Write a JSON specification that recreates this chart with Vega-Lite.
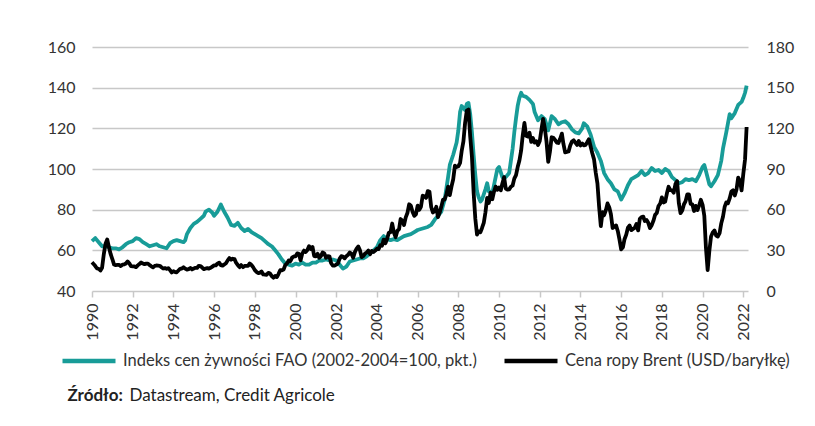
{
  "$schema": "https://vega.github.io/schema/vega-lite/v6.json",
  "width": 656,
  "height": 244,
  "autosize": {"type": "none"},
  "padding": {"left": 92, "top": 47, "right": 67, "bottom": 135},
  "background": "white",
  "config": {
    "view": {"stroke": null},
    "font": "Lato",
    "axis": {"labelFont": "Lato", "labelFontSize": 16, "labelColor": "#333333", "titleFont": "Lato", "titleFontSize": 17, "titleColor": "#222222"},
    "legend": {"labelFont": "Lato", "labelFontSize": 16.5, "labelColor": "#333333", "labelLimit": 500}
  },
  "datasets": {
    "fao": [
      {"d":"1990-01","v":64.5},{"d":"1990-03","v":66},{"d":"1990-05","v":64},{"d":"1990-07","v":62},{"d":"1990-09","v":62},{"d":"1990-11","v":61.5},
      {"d":"1991-01","v":61},{"d":"1991-03","v":61},{"d":"1991-05","v":60.5},{"d":"1991-07","v":61.5},{"d":"1991-09","v":63},{"d":"1991-11","v":64},
      {"d":"1992-01","v":64.5},{"d":"1992-03","v":66},{"d":"1992-05","v":65.5},{"d":"1992-07","v":64},{"d":"1992-09","v":63},{"d":"1992-11","v":62},
      {"d":"1993-01","v":62.5},{"d":"1993-03","v":63},{"d":"1993-05","v":62},{"d":"1993-07","v":61.5},{"d":"1993-09","v":61},{"d":"1993-11","v":63.5},
      {"d":"1994-01","v":64.5},{"d":"1994-03","v":65},{"d":"1994-05","v":64.5},{"d":"1994-07","v":64},{"d":"1994-08","v":65},{"d":"1994-09","v":68},{"d":"1994-11","v":71},
      {"d":"1995-01","v":73},{"d":"1995-03","v":74},{"d":"1995-05","v":75.5},{"d":"1995-07","v":77},{"d":"1995-08","v":79},{"d":"1995-10","v":80},{"d":"1995-12","v":78.5},
      {"d":"1996-01","v":77},{"d":"1996-03","v":79},{"d":"1996-05","v":82.5},{"d":"1996-07","v":79},{"d":"1996-09","v":76},{"d":"1996-11","v":72.5},
      {"d":"1997-01","v":72},{"d":"1997-03","v":73.5},{"d":"1997-05","v":71},{"d":"1997-07","v":69.5},{"d":"1997-09","v":70.5},{"d":"1997-11","v":69},
      {"d":"1998-01","v":68},{"d":"1998-03","v":67},{"d":"1998-05","v":66},{"d":"1998-07","v":64.5},{"d":"1998-09","v":63},{"d":"1998-11","v":62},
      {"d":"1999-01","v":60},{"d":"1999-03","v":58},{"d":"1999-05","v":55.5},{"d":"1999-07","v":53.5},{"d":"1999-09","v":53},{"d":"1999-11","v":52.5},
      {"d":"2000-01","v":53.5},{"d":"2000-03","v":53},{"d":"2000-05","v":54},{"d":"2000-07","v":53},{"d":"2000-09","v":53},{"d":"2000-11","v":54},
      {"d":"2001-01","v":54},{"d":"2001-03","v":55},{"d":"2001-05","v":55},{"d":"2001-07","v":55.5},{"d":"2001-09","v":55},{"d":"2001-11","v":55.5},
      {"d":"2002-01","v":55},{"d":"2002-03","v":53},{"d":"2002-05","v":51},{"d":"2002-07","v":52},{"d":"2002-09","v":54.5},{"d":"2002-11","v":55},
      {"d":"2003-01","v":55.5},{"d":"2003-03","v":56},{"d":"2003-05","v":56},{"d":"2003-07","v":57},{"d":"2003-09","v":58.5},{"d":"2003-11","v":60},
      {"d":"2004-01","v":61.5},{"d":"2004-03","v":65},{"d":"2004-05","v":67},{"d":"2004-07","v":65.5},{"d":"2004-09","v":65},{"d":"2004-11","v":65.5},
      {"d":"2005-01","v":65},{"d":"2005-03","v":66},{"d":"2005-05","v":67},{"d":"2005-07","v":67.5},{"d":"2005-09","v":68},{"d":"2005-11","v":69},
      {"d":"2006-01","v":70},{"d":"2006-03","v":70.5},{"d":"2006-05","v":71},{"d":"2006-07","v":71.5},{"d":"2006-09","v":72.5},{"d":"2006-11","v":75},
      {"d":"2007-01","v":77},{"d":"2007-03","v":79},{"d":"2007-05","v":85},{"d":"2007-07","v":96},{"d":"2007-08","v":102},{"d":"2007-10","v":107},{"d":"2007-12","v":113},
      {"d":"2008-01","v":119},{"d":"2008-02","v":128},{"d":"2008-03","v":131},{"d":"2008-04","v":130},{"d":"2008-05","v":129},{"d":"2008-06","v":132},{"d":"2008-07","v":132.5},{"d":"2008-08","v":127},{"d":"2008-09","v":118},{"d":"2008-10","v":107},{"d":"2008-11","v":97},{"d":"2008-12","v":89},
      {"d":"2009-01","v":86},{"d":"2009-02","v":84},{"d":"2009-03","v":85},{"d":"2009-05","v":90},{"d":"2009-06","v":93},{"d":"2009-07","v":89},{"d":"2009-09","v":88},{"d":"2009-10","v":92},{"d":"2009-12","v":100},
      {"d":"2010-01","v":101},{"d":"2010-03","v":96},{"d":"2010-05","v":96},{"d":"2010-07","v":98},{"d":"2010-08","v":104},{"d":"2010-09","v":110},{"d":"2010-10","v":118},{"d":"2010-11","v":125},{"d":"2010-12","v":131},
      {"d":"2011-01","v":135},{"d":"2011-02","v":137.5},{"d":"2011-03","v":136},{"d":"2011-05","v":135.5},{"d":"2011-07","v":134},{"d":"2011-09","v":132},{"d":"2011-10","v":128},{"d":"2011-12","v":124},
      {"d":"2012-02","v":126},{"d":"2012-04","v":124.5},{"d":"2012-06","v":119},{"d":"2012-08","v":126},{"d":"2012-10","v":124.5},{"d":"2012-12","v":122},
      {"d":"2013-02","v":123},{"d":"2013-04","v":123.5},{"d":"2013-06","v":122},{"d":"2013-08","v":119.5},{"d":"2013-10","v":118},{"d":"2013-12","v":117.5},
      {"d":"2014-02","v":120},{"d":"2014-03","v":122.5},{"d":"2014-05","v":121},{"d":"2014-07","v":117},{"d":"2014-09","v":111},{"d":"2014-11","v":108},
      {"d":"2015-01","v":104},{"d":"2015-03","v":98},{"d":"2015-05","v":95},{"d":"2015-07","v":93},{"d":"2015-09","v":90},{"d":"2015-11","v":89},
      {"d":"2016-01","v":85},{"d":"2016-03","v":88},{"d":"2016-05","v":92},{"d":"2016-07","v":95},{"d":"2016-09","v":96},{"d":"2016-11","v":97},
      {"d":"2017-01","v":99},{"d":"2017-03","v":97},{"d":"2017-05","v":98},{"d":"2017-07","v":100.5},{"d":"2017-09","v":99},{"d":"2017-11","v":99.5},
      {"d":"2018-01","v":98},{"d":"2018-03","v":100},{"d":"2018-05","v":99},{"d":"2018-07","v":96},{"d":"2018-09","v":94.5},{"d":"2018-11","v":93},
      {"d":"2019-01","v":93.5},{"d":"2019-03","v":95},{"d":"2019-05","v":94.5},{"d":"2019-07","v":95},{"d":"2019-09","v":94},{"d":"2019-11","v":97},
      {"d":"2020-01","v":101},{"d":"2020-02","v":102},{"d":"2020-03","v":99},{"d":"2020-05","v":92.5},{"d":"2020-06","v":91.5},{"d":"2020-08","v":94},{"d":"2020-10","v":97},{"d":"2020-12","v":104},
      {"d":"2021-01","v":110},{"d":"2021-03","v":118},{"d":"2021-05","v":127},{"d":"2021-06","v":125},{"d":"2021-08","v":127.5},{"d":"2021-10","v":131.5},{"d":"2021-12","v":133},
      {"d":"2022-01","v":135},{"d":"2022-02","v":137.5},{"d":"2022-03","v":141}
    ],
    "brent": [
      {"d":"1990-01","v":21.2},{"d":"1990-02","v":19.8},{"d":"1990-03","v":18.4},{"d":"1990-04","v":16.6},{"d":"1990-05","v":16.4},{"d":"1990-06","v":15.1},{"d":"1990-07","v":17.2},{"d":"1990-08","v":27.2},{"d":"1990-09","v":34.9},{"d":"1990-10","v":38.0},{"d":"1990-11","v":32.3},{"d":"1990-12","v":27.3},
      {"d":"1991-01","v":23.6},{"d":"1991-02","v":19.5},{"d":"1991-03","v":19.1},{"d":"1991-04","v":19.2},{"d":"1991-05","v":19.2},{"d":"1991-06","v":18.4},{"d":"1991-07","v":19.4},{"d":"1991-08","v":19.6},{"d":"1991-09","v":20.3},{"d":"1991-10","v":21.8},{"d":"1991-11","v":20.5},{"d":"1991-12","v":18.3},
      {"d":"1992-01","v":18.2},{"d":"1992-02","v":18.1},{"d":"1992-03","v":17.6},{"d":"1992-04","v":18.9},{"d":"1992-05","v":19.9},{"d":"1992-06","v":21.0},{"d":"1992-07","v":20.3},{"d":"1992-08","v":19.8},{"d":"1992-09","v":20.2},{"d":"1992-10","v":20.2},{"d":"1992-11","v":19.1},{"d":"1992-12","v":18.2},
      {"d":"1993-01","v":17.4},{"d":"1993-02","v":18.5},{"d":"1993-03","v":18.8},{"d":"1993-04","v":18.7},{"d":"1993-05","v":18.6},{"d":"1993-06","v":17.5},{"d":"1993-07","v":16.6},{"d":"1993-08","v":16.9},{"d":"1993-09","v":16.3},{"d":"1993-10","v":16.9},{"d":"1993-11","v":15.4},{"d":"1993-12","v":13.7},
      {"d":"1994-01","v":14.6},{"d":"1994-02","v":14.0},{"d":"1994-03","v":13.8},{"d":"1994-04","v":15.1},{"d":"1994-05","v":16.4},{"d":"1994-06","v":16.6},{"d":"1994-07","v":17.5},{"d":"1994-08","v":16.5},{"d":"1994-09","v":15.8},{"d":"1994-10","v":16.1},{"d":"1994-11","v":17.0},{"d":"1994-12","v":15.9},
      {"d":"1995-01","v":16.6},{"d":"1995-02","v":17.1},{"d":"1995-03","v":17.0},{"d":"1995-04","v":18.6},{"d":"1995-05","v":18.4},{"d":"1995-06","v":17.3},{"d":"1995-07","v":16.1},{"d":"1995-08","v":16.6},{"d":"1995-09","v":16.9},{"d":"1995-10","v":16.5},{"d":"1995-11","v":17.1},{"d":"1995-12","v":18.0},
      {"d":"1996-01","v":18.9},{"d":"1996-02","v":18.9},{"d":"1996-03","v":20.2},{"d":"1996-04","v":20.9},{"d":"1996-05","v":19.1},{"d":"1996-06","v":18.7},{"d":"1996-07","v":19.6},{"d":"1996-08","v":20.5},{"d":"1996-09","v":22.6},{"d":"1996-10","v":24.3},{"d":"1996-11","v":23.1},{"d":"1996-12","v":23.8},
      {"d":"1997-01","v":23.5},{"d":"1997-02","v":20.7},{"d":"1997-03","v":19.2},{"d":"1997-04","v":17.6},{"d":"1997-05","v":19.1},{"d":"1997-06","v":17.6},{"d":"1997-07","v":18.5},{"d":"1997-08","v":18.6},{"d":"1997-09","v":18.6},{"d":"1997-10","v":20.3},{"d":"1997-11","v":19.2},{"d":"1997-12","v":17.6},
      {"d":"1998-01","v":15.4},{"d":"1998-02","v":14.1},{"d":"1998-03","v":13.2},{"d":"1998-04","v":13.4},{"d":"1998-05","v":14.4},{"d":"1998-06","v":12.2},{"d":"1998-07","v":12.1},{"d":"1998-08","v":12.0},{"d":"1998-09","v":13.4},{"d":"1998-10","v":12.9},{"d":"1998-11","v":11.0},{"d":"1998-12","v":9.8},
      {"d":"1999-01","v":11.1},{"d":"1999-02","v":10.3},{"d":"1999-03","v":12.5},{"d":"1999-04","v":15.3},{"d":"1999-05","v":15.3},{"d":"1999-06","v":15.9},{"d":"1999-07","v":19.1},{"d":"1999-08","v":20.3},{"d":"1999-09","v":22.5},{"d":"1999-10","v":22.0},{"d":"1999-11","v":24.6},{"d":"1999-12","v":25.5},
      {"d":"2000-01","v":25.5},{"d":"2000-02","v":27.8},{"d":"2000-03","v":27.5},{"d":"2000-04","v":22.7},{"d":"2000-05","v":27.6},{"d":"2000-06","v":29.8},{"d":"2000-07","v":28.7},{"d":"2000-08","v":30.2},{"d":"2000-09","v":33.1},{"d":"2000-10","v":30.9},{"d":"2000-11","v":32.5},{"d":"2000-12","v":25.8},
      {"d":"2001-01","v":25.6},{"d":"2001-02","v":27.5},{"d":"2001-03","v":24.5},{"d":"2001-04","v":25.7},{"d":"2001-05","v":28.4},{"d":"2001-06","v":27.7},{"d":"2001-07","v":24.5},{"d":"2001-08","v":25.7},{"d":"2001-09","v":25.6},{"d":"2001-10","v":20.5},{"d":"2001-11","v":18.8},{"d":"2001-12","v":18.7},
      {"d":"2002-01","v":19.4},{"d":"2002-02","v":20.3},{"d":"2002-03","v":23.7},{"d":"2002-04","v":25.7},{"d":"2002-05","v":25.4},{"d":"2002-06","v":24.1},{"d":"2002-07","v":25.7},{"d":"2002-08","v":26.7},{"d":"2002-09","v":28.4},{"d":"2002-10","v":27.5},{"d":"2002-11","v":24.5},{"d":"2002-12","v":28.7},
      {"d":"2003-01","v":31.2},{"d":"2003-02","v":32.8},{"d":"2003-03","v":30.3},{"d":"2003-04","v":25.0},{"d":"2003-05","v":25.8},{"d":"2003-06","v":27.6},{"d":"2003-07","v":28.4},{"d":"2003-08","v":29.8},{"d":"2003-09","v":27.1},{"d":"2003-10","v":29.6},{"d":"2003-11","v":28.8},{"d":"2003-12","v":29.8},
      {"d":"2004-01","v":31.2},{"d":"2004-02","v":30.9},{"d":"2004-03","v":33.8},{"d":"2004-04","v":33.4},{"d":"2004-05","v":37.9},{"d":"2004-06","v":35.2},{"d":"2004-07","v":38.4},{"d":"2004-08","v":43.0},{"d":"2004-09","v":43.4},{"d":"2004-10","v":49.8},{"d":"2004-11","v":43.1},{"d":"2004-12","v":39.7},
      {"d":"2005-01","v":44.3},{"d":"2005-02","v":45.6},{"d":"2005-03","v":53.1},{"d":"2005-04","v":51.9},{"d":"2005-05","v":48.7},{"d":"2005-06","v":54.3},{"d":"2005-07","v":57.5},{"d":"2005-08","v":64.0},{"d":"2005-09","v":62.9},{"d":"2005-10","v":58.5},{"d":"2005-11","v":55.4},{"d":"2005-12","v":56.5},
      {"d":"2006-01","v":62.9},{"d":"2006-02","v":60.0},{"d":"2006-03","v":62.1},{"d":"2006-04","v":70.3},{"d":"2006-05","v":69.8},{"d":"2006-06","v":68.7},{"d":"2006-07","v":73.7},{"d":"2006-08","v":73.2},{"d":"2006-09","v":62.0},{"d":"2006-10","v":57.9},{"d":"2006-11","v":58.8},{"d":"2006-12","v":62.1},
      {"d":"2007-01","v":54.5},{"d":"2007-02","v":58.0},{"d":"2007-03","v":62.1},{"d":"2007-04","v":67.4},{"d":"2007-05","v":67.5},{"d":"2007-06","v":71.3},{"d":"2007-07","v":77.0},{"d":"2007-08","v":70.8},{"d":"2007-09","v":77.2},{"d":"2007-10","v":82.4},{"d":"2007-11","v":92.5},{"d":"2007-12","v":91.5},
      {"d":"2008-01","v":92.0},{"d":"2008-02","v":94.5},{"d":"2008-03","v":103.3},{"d":"2008-04","v":110.4},{"d":"2008-05","v":123.9},{"d":"2008-06","v":133.1},{"d":"2008-07","v":133.9},{"d":"2008-08","v":113.9},{"d":"2008-09","v":99.1},{"d":"2008-10","v":72.8},{"d":"2008-11","v":53.2},{"d":"2008-12","v":41.6},
      {"d":"2009-01","v":43.9},{"d":"2009-02","v":43.4},{"d":"2009-03","v":46.5},{"d":"2009-04","v":50.2},{"d":"2009-05","v":57.9},{"d":"2009-06","v":68.6},{"d":"2009-07","v":64.9},{"d":"2009-08","v":72.5},{"d":"2009-09","v":67.7},{"d":"2009-10","v":73.2},{"d":"2009-11","v":77.0},{"d":"2009-12","v":74.7},
      {"d":"2010-01","v":76.4},{"d":"2010-02","v":74.3},{"d":"2010-03","v":79.3},{"d":"2010-04","v":84.0},{"d":"2010-05","v":75.6},{"d":"2010-06","v":74.8},{"d":"2010-07","v":75.0},{"d":"2010-08","v":76.9},{"d":"2010-09","v":77.8},{"d":"2010-10","v":82.9},{"d":"2010-11","v":85.5},{"d":"2010-12","v":91.4},
      {"d":"2011-01","v":96.3},{"d":"2011-02","v":103.7},{"d":"2011-03","v":114.6},{"d":"2011-04","v":124.0},{"d":"2011-05","v":114.5},{"d":"2011-06","v":113.9},{"d":"2011-07","v":116.7},{"d":"2011-08","v":110.0},{"d":"2011-09","v":112.8},{"d":"2011-10","v":109.5},{"d":"2011-11","v":110.5},{"d":"2011-12","v":107.7},
      {"d":"2012-01","v":110.6},{"d":"2012-02","v":119.3},{"d":"2012-03","v":127.0},{"d":"2012-04","v":120.0},{"d":"2012-05","v":110.3},{"d":"2012-06","v":95.2},{"d":"2012-07","v":102.6},{"d":"2012-08","v":113.4},{"d":"2012-09","v":113.0},{"d":"2012-10","v":111.5},{"d":"2012-11","v":109.5},{"d":"2012-12","v":109.2},
      {"d":"2013-01","v":112.3},{"d":"2013-02","v":116.1},{"d":"2013-03","v":108.5},{"d":"2013-04","v":102.3},{"d":"2013-05","v":102.6},{"d":"2013-06","v":102.9},{"d":"2013-07","v":107.4},{"d":"2013-08","v":110.3},{"d":"2013-09","v":111.2},{"d":"2013-10","v":109.5},{"d":"2013-11","v":107.8},{"d":"2013-12","v":110.6},
      {"d":"2014-01","v":107.4},{"d":"2014-02","v":108.8},{"d":"2014-03","v":107.4},{"d":"2014-04","v":107.8},{"d":"2014-05","v":109.7},{"d":"2014-06","v":111.9},{"d":"2014-07","v":106.8},{"d":"2014-08","v":101.6},{"d":"2014-09","v":97.1},{"d":"2014-10","v":87.4},{"d":"2014-11","v":79.4},{"d":"2014-12","v":62.3},
      {"d":"2015-01","v":47.8},{"d":"2015-02","v":58.1},{"d":"2015-03","v":55.9},{"d":"2015-04","v":59.5},{"d":"2015-05","v":64.6},{"d":"2015-06","v":61.8},{"d":"2015-07","v":56.6},{"d":"2015-08","v":46.5},{"d":"2015-09","v":47.6},{"d":"2015-10","v":48.4},{"d":"2015-11","v":44.3},{"d":"2015-12","v":38.0},
      {"d":"2016-01","v":30.7},{"d":"2016-02","v":32.2},{"d":"2016-03","v":38.2},{"d":"2016-04","v":41.6},{"d":"2016-05","v":46.7},{"d":"2016-06","v":48.3},{"d":"2016-07","v":44.9},{"d":"2016-08","v":45.8},{"d":"2016-09","v":46.6},{"d":"2016-10","v":49.5},{"d":"2016-11","v":44.7},{"d":"2016-12","v":53.3},
      {"d":"2017-01","v":54.6},{"d":"2017-02","v":54.9},{"d":"2017-03","v":51.6},{"d":"2017-04","v":52.3},{"d":"2017-05","v":50.3},{"d":"2017-06","v":46.4},{"d":"2017-07","v":48.5},{"d":"2017-08","v":51.7},{"d":"2017-09","v":56.2},{"d":"2017-10","v":57.5},{"d":"2017-11","v":62.7},{"d":"2017-12","v":64.4},
      {"d":"2018-01","v":69.1},{"d":"2018-02","v":65.3},{"d":"2018-03","v":66.0},{"d":"2018-04","v":72.1},{"d":"2018-05","v":76.9},{"d":"2018-06","v":74.4},{"d":"2018-07","v":74.3},{"d":"2018-08","v":72.5},{"d":"2018-09","v":78.9},{"d":"2018-10","v":81.0},{"d":"2018-11","v":64.7},{"d":"2018-12","v":57.4},
      {"d":"2019-01","v":59.4},{"d":"2019-02","v":64.0},{"d":"2019-03","v":66.1},{"d":"2019-04","v":71.2},{"d":"2019-05","v":71.3},{"d":"2019-06","v":64.2},{"d":"2019-07","v":63.9},{"d":"2019-08","v":59.0},{"d":"2019-09","v":62.8},{"d":"2019-10","v":59.7},{"d":"2019-11","v":63.2},{"d":"2019-12","v":67.3},
      {"d":"2020-01","v":63.6},{"d":"2020-02","v":55.5},{"d":"2020-03","v":32.0},{"d":"2020-04","v":15.5},{"d":"2020-05","v":29.4},{"d":"2020-06","v":40.3},{"d":"2020-07","v":43.2},{"d":"2020-08","v":44.7},{"d":"2020-09","v":40.9},{"d":"2020-10","v":40.2},{"d":"2020-11","v":42.7},{"d":"2020-12","v":49.9},
      {"d":"2021-01","v":54.8},{"d":"2021-02","v":62.3},{"d":"2021-03","v":65.4},{"d":"2021-04","v":64.8},{"d":"2021-05","v":68.3},{"d":"2021-06","v":73.4},{"d":"2021-07","v":74.3},{"d":"2021-08","v":70.5},{"d":"2021-09","v":74.9},{"d":"2021-10","v":83.7},{"d":"2021-11","v":81.1},{"d":"2021-12","v":74.2},
      {"d":"2022-01","v":86.5},{"d":"2022-02","v":97.1},{"d":"2022-03","v":121.0}
    ]
  },
  "encoding": {
    "x": {
      "field": "d", "type": "temporal",
      "scale": {"type": "utc", "domain": [{"year": 1990, "month": 1, "date": 1, "utc": true}, {"year": 2022, "month": 3, "date": 26, "utc": true}], "nice": false},
      "axis": {
        "format": "%Y",
        "tickCount": {"interval": "year", "step": 2},
        "labelAngle": -90, "labelPadding": 6,
        "grid": false, "domain": false,
        "ticks": true, "tickColor": "#c8c8c8", "tickSize": 6, "tickWidth": 1.5,
        "labelFlush": false, "labelOverlap": false,
        "title": "Datastream, Credit Agricole",
        "titleX": 37, "titleY": 104, "titleAlign": "left", "titleBaseline": "middle", "titleAngle": 0,
        "titleFontWeight": "normal"
      }
    }
  },
  "layer": [
    {
      "data": {"name": "fao"},
      "mark": {"type": "line", "strokeWidth": 3.8, "strokeJoin": "round"},
      "encoding": {
        "y": {
          "field": "v", "type": "quantitative",
          "scale": {"domain": [40, 160], "nice": false, "zero": false},
          "axis": {
            "orient": "left", "values": [40, 60, 80, 100, 120, 140, 160],
            "grid": true, "gridColor": "#c8c8c8", "gridWidth": 1.5,
            "domain": false, "ticks": false, "labelPadding": 17,
            "title": "Źródło:", "titleAngle": 0, "titleX": -25, "titleY": 348,
            "titleAlign": "left", "titleBaseline": "middle", "titleFontWeight": "bold"
          }
        },
        "color": {
          "datum": "Indeks cen żywności FAO (2002-2004=100, pkt.)",
          "scale": {"domain": ["Indeks cen żywności FAO (2002-2004=100, pkt.)", "Cena ropy Brent (USD/baryłkę)"], "range": ["#189c98", "#000000"]},
          "legend": {
            "title": null, "orient": "none", "direction": "horizontal",
            "legendX": -32, "legendY": 285,
            "symbolType": "stroke", "symbolSize": 2809, "symbolStrokeWidth": 4.5,
            "labelOffset": 5, "columnPadding": 18, "labelLimit": 500
          }
        }
      }
    },
    {
      "data": {"name": "brent"},
      "mark": {"type": "line", "strokeWidth": 3.8, "strokeJoin": "round"},
      "encoding": {
        "y": {
          "field": "v", "type": "quantitative",
          "scale": {"domain": [0, 180], "nice": false},
          "axis": {
            "orient": "right", "values": [0, 30, 60, 90, 120, 150, 180],
            "grid": false, "domain": false, "ticks": false, "labelPadding": 18,
            "title": null
          }
        },
        "color": {"datum": "Cena ropy Brent (USD/baryłkę)"}
      }
    }
  ],
  "resolve": {"scale": {"y": "independent"}}
}
